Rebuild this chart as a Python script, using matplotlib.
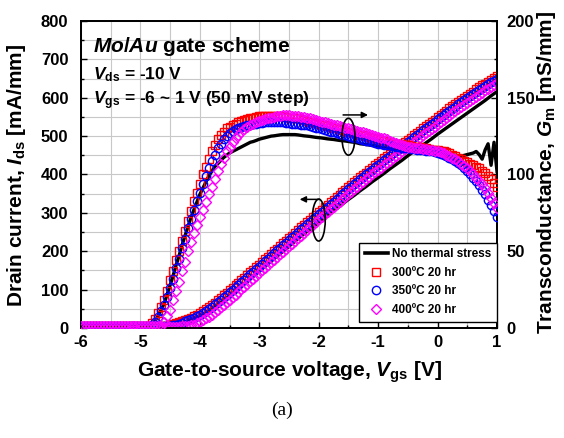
import numpy as np
import matplotlib
matplotlib.use('Agg')
import matplotlib.pyplot as plt
from matplotlib.patches import Ellipse
from matplotlib.lines import Line2D
from matplotlib.ticker import MultipleLocator

plt.rcParams['font.family'] = ['Liberation Sans', 'DejaVu Sans']
plt.rcParams['font.weight'] = 'bold'
plt.rcParams['axes.unicode_minus'] = False
plt.rcParams['mathtext.fontset'] = 'custom'
plt.rcParams['mathtext.rm'] = 'Liberation Sans:bold'
plt.rcParams['mathtext.bf'] = 'Liberation Sans:bold'
plt.rcParams['mathtext.it'] = 'Liberation Sans:bold:italic'

# Gate sweep, 50 mV step
vgs = np.round(np.arange(-6.0, 1.0001, 0.05), 2)

# Drain current [mA/mm]
id_ref = [3, 3, 3, 3, 3, 3, 3, 3, 3, 3, 3, 3,
          3, 3, 3, 3, 3, 3, 3, 3, 3, 3, 3, 3,
          3, 3, 3, 3.5, 4, 5, 6, 7.5, 9, 11, 13, 15.5, 18, 21, 24, 27.5,
          31, 35.5, 40, 45, 50, 55.5, 61, 66.5, 72, 78, 84, 90, 96, 102.5, 109, 115.5, 122, 128.5, 135, 141.5,
          148, 154.5, 161, 167.5, 174, 180.5, 187, 193.5, 200, 206.5, 213, 219.5, 226, 232.5, 239, 245, 251, 257, 263, 269,
          275, 281, 287, 293, 299, 305, 311, 317, 323, 329, 335, 340.5, 346, 352, 358, 363.5, 369, 375, 381, 386.5,
          392, 397.5, 403, 409, 415, 420.5, 426, 431.5, 437, 443, 449, 454.5, 460, 465.5, 471, 476.5, 482, 487.5, 493, 499,
          505, 510.5, 516, 521.5, 527, 532.5, 538, 543.5, 549, 554.5, 560, 565.5, 571, 576.5, 582, 587.5, 593, 599, 605, 610.5, 616]
id_300 = [3, 3, 3, 3, 3, 3, 3, 3, 3, 3, 3, 3,
          3, 3, 3, 3, 3, 3, 3, 3, 3, 3, 3, 3,
          3, 3.5, 4, 4.5, 5, 6.5, 8, 10, 12, 14.5, 17, 20, 23, 27, 31, 35,
          39, 44, 49, 54.5, 60, 66, 72, 78.5, 85, 91.5, 98, 104.5, 111, 117.5, 124, 131, 138, 145, 152, 158.5,
          165, 172, 179, 186, 193, 200, 207, 214, 221, 227.5, 234, 241, 248, 255, 262, 268.5, 275, 282, 289, 295.5,
          302, 308.5, 315, 321.5, 328, 334.5, 341, 347.5, 354, 360.5, 367, 373.5, 380, 386.5, 393, 399, 405, 411.5, 418, 424,
          430, 436, 442, 448, 454, 460, 466, 472, 478, 484, 490, 496, 502, 508, 514, 520, 526, 531.5, 537, 543,
          549, 555, 561, 566.5, 572, 577.5, 583, 588.5, 594, 599.5, 605, 610.5, 616, 621.5, 627, 632, 637, 642, 647, 651.5, 656]
id_350 = [3, 3, 3, 3, 3, 3, 3, 3, 3, 3, 3, 3,
          3, 3, 3, 3, 3, 3, 3, 3, 3, 3, 3, 3,
          3, 3, 3, 3.5, 4, 5, 6, 7.5, 9, 11.5, 14, 17, 20, 23.5, 27, 31,
          35, 40, 45, 50.5, 56, 62, 68, 74, 80, 86.5, 93, 99.5, 106, 112.5, 119, 126, 133, 140, 147, 153.5,
          160, 167, 174, 181, 188, 195, 202, 209, 216, 222.5, 229, 236, 243, 250, 257, 263.5, 270, 277, 284, 290.5,
          297, 303.5, 310, 316.5, 323, 329.5, 336, 342.5, 349, 355.5, 362, 368.5, 375, 381.5, 388, 394, 400, 406.5, 413, 419,
          425, 431, 437, 443, 449, 455, 461, 467, 473, 479, 485, 491, 497, 503, 509, 515, 521, 526.5, 532, 538,
          544, 549.5, 555, 560.5, 566, 571.5, 577, 582.5, 588, 593.5, 599, 604.5, 610, 615, 620, 625, 630, 635, 640, 644.5, 649]
id_400 = [3, 3, 3, 3, 3, 3, 3, 3, 3, 3, 3, 3,
          3, 3, 3, 3, 3, 3, 3, 3, 3, 3, 3, 3,
          3, 3, 3, 3, 3, 3, 3, 3, 3, 3.5, 4, 4.5, 5, 7, 9, 12,
          16, 20.5, 25, 30, 35, 41, 47, 53.5, 60, 66.5, 73, 80, 87, 94, 101, 108, 115, 122, 129, 136,
          143, 150, 157, 164, 171, 178, 185, 192, 199, 206, 213, 220, 227, 234, 241, 248, 255, 262, 269, 276,
          283, 290, 297, 303.5, 310, 316.5, 323, 329.5, 336, 342.5, 349, 355.5, 362, 368.5, 375, 381.5, 388, 394, 400, 406,
          412, 418, 424, 430, 436, 442, 448, 454, 460, 466, 472, 478, 484, 490, 496, 502, 508, 513.5, 519, 525,
          531, 536.5, 542, 547.5, 553, 559, 565, 570.5, 576, 581.5, 587, 592.5, 598, 603, 608, 613.5, 619, 624, 629, 634, 639]

# Transconductance [mS/mm]
gm_ref = [1, 1, 1, 1, 1, 1, 1, 1, 1, 1, 1, 1,
          1, 1, 1, 1, 1, 1, 1, 1, 1, 1, 1, 1,
          2, 5, 8, 12, 16, 22, 28, 34, 41, 47, 54, 60, 66, 72, 77, 82,
          87, 91, 95, 99, 102, 105, 107, 109, 111, 112.5, 114, 115, 116, 117, 118, 119, 120, 121, 121.5, 122.2,
          123, 123.5, 124, 124.5, 125, 125.2, 125.5, 125.8, 126, 126, 126, 126, 126, 125.8, 125.5, 125.2, 125, 124.8, 124.5, 124.2,
          124, 123.8, 123.5, 123.2, 123, 122.8, 122.5, 122.2, 122, 121.8, 121.5, 121.2, 121, 120.5, 120, 119.8, 119.5, 119.2, 119, 118.8,
          118.5, 118.2, 118, 117.8, 117.5, 117.2, 117, 116.8, 116.5, 116.2, 116, 115.8, 115.5, 115.2, 115, 114.8, 114.5, 114.2, 114, 113.8,
          113.5, 113.2, 113, 113, 113, 112.8, 112.5, 112.2, 112, 112.5, 113, 113.5, 114, 115, 113, 110, 116, 120, 106, 121, 102]
gm_300 = [1, 1, 1, 1, 1, 1, 1, 1, 1, 1, 1, 1,
          1, 1, 1, 1, 1, 1, 1, 1, 1, 1, 1, 1,
          3, 6, 10, 14, 18, 24, 31, 37, 44, 50, 57, 63, 70, 76, 83, 88,
          94, 100, 105, 110, 115, 119, 123, 126, 128, 130, 131, 132, 133, 134, 135, 135.5, 136, 136.5, 137, 137.5,
          138, 138, 138, 138, 138, 138, 138, 138, 138, 137.5, 137, 137, 137, 136.5, 136, 135.5, 135, 134.5, 134, 133.5,
          133, 132.5, 132, 131.5, 131, 130.5, 130, 129.5, 129, 128.5, 128, 127.5, 127, 126.5, 126, 125.5, 125, 124.5, 124, 123.5,
          123, 122.5, 122, 121.5, 121, 120.5, 120, 120, 120, 119.5, 119, 118.5, 118, 118, 118, 117.5, 117, 116.5, 116, 116,
          116, 115.5, 115, 114.5, 114, 113, 112, 111, 110, 109, 108, 107, 106, 105, 104, 102.5, 101, 99, 97, 94.5, 92]
gm_350 = [1, 1, 1, 1, 1, 1, 1, 1, 1, 1, 1, 1,
          1, 1, 1, 1, 1, 1, 1, 1, 1, 1, 1, 1,
          2, 4, 7, 11, 15, 20, 26, 32, 39, 45, 52, 58, 65, 71, 77, 83,
          88, 94, 99, 104, 109, 113, 117, 120, 123, 125, 127, 128.5, 129.5, 130.5, 131, 131.5, 132, 132.5, 133, 133.2,
          133.5, 133.8, 134, 134, 134, 134, 134, 134, 134, 133.8, 133.5, 133.2, 133, 132.8, 132.5, 132.2, 132, 131.5, 131, 130.5,
          130, 129.5, 129, 128.5, 128, 127.5, 127, 126.5, 126, 125.5, 125, 124.5, 124, 123.5, 123, 122.5, 122, 121.5, 121, 120.5,
          120, 119.8, 119.5, 119.2, 119, 118.5, 118, 117.8, 117.5, 117.2, 117, 116.8, 116.5, 116.2, 116, 115.8, 115.5, 115.2, 115, 114.5,
          114, 113.5, 113, 112, 111, 110, 109, 107.5, 106, 104, 102, 100, 98, 95.5, 93, 90, 87, 83.5, 80, 76, 72]
gm_400 = [1, 1, 1, 1, 1, 1, 1, 1, 1, 1, 1, 1,
          1, 1, 1, 1, 1, 1, 1, 1, 1, 1, 1, 1,
          1, 1, 1, 1, 4, 8, 12, 18, 24, 30, 37, 43, 50, 56, 62, 67,
          72, 77, 82, 87, 92, 97, 102, 107, 111, 115, 118, 121, 124, 126, 128, 129.5, 131, 132, 133, 134,
          135, 135.5, 136, 136.5, 137, 137.5, 138, 138.2, 138.5, 138.5, 138.5, 138.2, 138, 137.8, 137.5, 137.2, 137, 136.5, 136, 135.5,
          135, 134.5, 134, 133.5, 133, 132.5, 132, 131.5, 131, 130.5, 130, 129.5, 129, 128.5, 128, 127.5, 127, 126.2, 125.5, 125,
          124.5, 124, 123.5, 122.8, 122, 121.2, 120.5, 119.8, 119, 118.5, 118, 117.8, 117.5, 117.2, 117, 116.8, 116.5, 116.2, 116, 115.5,
          115, 114.5, 114, 113, 112, 111, 110, 108.5, 107, 105.5, 104, 102, 100, 98, 96, 93.5, 91, 88, 85, 81.5, 78]

labels = ['No thermal stress', '300ºC 20 hr', '350ºC 20 hr', '400ºC 20 hr']

fig = plt.figure(figsize=(5.64, 4.38), dpi=100)
ax = fig.add_axes([0.1436, 0.2511, 0.7376, 0.701])
ax2 = ax.twinx()

mk = dict(ls='none', mfc='none', mew=1.0)
ax.plot(vgs, id_ref, color='black', lw=2.4, zorder=2)
ax.plot(vgs, id_300, marker='s', ms=6, mec='#ff0000', zorder=3, **mk)
ax.plot(vgs, id_350, marker='o', ms=6, mec='#0000ff', zorder=4, **mk)
ax.plot(vgs, id_400, marker='D', ms=5.2, mec='#ff00ff', zorder=5, **mk)

ax2.plot(vgs, gm_ref, color='black', lw=2.4, zorder=2)
ax2.plot(vgs, gm_300, marker='s', ms=6, mec='#ff0000', zorder=3, **mk)
ax2.plot(vgs, gm_350, marker='o', ms=6, mec='#0000ff', zorder=4, **mk)
ax2.plot(vgs, gm_400, marker='D', ms=5.2, mec='#ff00ff', zorder=5, **mk)

ax.set_xlim(-6, 1)
ax.set_ylim(0, 800)
ax2.set_ylim(0, 200)

ax.xaxis.set_major_locator(MultipleLocator(1))
ax.xaxis.set_minor_locator(MultipleLocator(0.5))
ax.yaxis.set_major_locator(MultipleLocator(100))
ax.yaxis.set_minor_locator(MultipleLocator(50))
ax2.yaxis.set_major_locator(MultipleLocator(50))
ax2.yaxis.set_minor_locator(MultipleLocator(25))

ax.grid(which='both', color='#c8c8c8', lw=0.8)
ax.set_axisbelow(True)

ax.tick_params(axis='both', which='both', direction='in', labelsize=12, width=1)
ax.tick_params(axis='y', which='both', right=False, pad=9)
ax.tick_params(axis='x', which='both', top=False, pad=5)
ax.tick_params(which='major', length=4)
ax.tick_params(which='minor', length=2.5)
ax2.tick_params(axis='y', which='both', direction='in', labelsize=12, width=1, pad=7)
ax2.tick_params(which='major', length=4)
ax2.tick_params(which='minor', length=2.5)
for a in (ax, ax2):
    for s in a.spines.values():
        s.set_linewidth(1.3)

# axis labels
fig.text(17 / 564, 1 - 175 / 438, r'Drain current, $I_{\mathrm{ds}}$ [mA/mm]',
         rotation=90, ha='center', va='center', fontsize=15)
fig.text(546 / 564, 1 - 172 / 438, r'Transconductance, $G_{\mathrm{m}}$ [mS/mm]',
         rotation=90, ha='center', va='center', fontsize=15)
fig.text(290 / 564, 1 - 372 / 438, r'Gate-to-source voltage, $V_{\mathrm{gs}}$ [V]',
         ha='center', va='center', fontsize=15)
fig.text(282 / 564, 1 - 410 / 438, '(a)', ha='center', va='center',
         fontsize=14, fontweight='normal', family=['Liberation Serif'])

# in-plot text
ax.text(0.029, 0.899, r'$Mo/Au$ gate scheme', transform=ax.transAxes,
        fontsize=15, va='baseline', ha='left')
ax.text(0.029, 0.811, r'$V_{\mathrm{ds}}$ = -10 V', transform=ax.transAxes,
        fontsize=12.5, va='baseline', ha='left')
ax.text(0.029, 0.730, r'$V_{\mathrm{gs}}$ = -6 ~ 1 V (50 mV step)', transform=ax.transAxes,
        fontsize=12.5, va='baseline', ha='left')

# ellipses with arrows pointing to the matching axis
ax2.add_patch(Ellipse((-1.50, 124.6), 0.22, 24, fill=False, ec='black', lw=1.2, zorder=6))
ax2.annotate('', xy=(-1.17, 138.8), xytext=(-1.59, 138.8),
             arrowprops=dict(arrowstyle='-|>', color='black', lw=1.1, mutation_scale=9,
                             shrinkA=0, shrinkB=0), zorder=6)
ax2.add_patch(Ellipse((-2.0, 70.3), 0.22, 27.3, fill=False, ec='black', lw=1.2, zorder=6))
ax2.annotate('', xy=(-2.32, 83.8), xytext=(-1.98, 83.8),
             arrowprops=dict(arrowstyle='-|>', color='black', lw=1.1, mutation_scale=9,
                             shrinkA=0, shrinkB=0), zorder=6)

handles = [Line2D([], [], color='black', lw=2.6),
           Line2D([], [], marker='s', ms=6, mec='#ff0000', **mk),
           Line2D([], [], marker='o', ms=6, mec='#0000ff', **mk),
           Line2D([], [], marker='D', ms=5.2, mec='#ff00ff', **mk)]
leg = ax2.legend(handles, labels, loc='lower right', bbox_to_anchor=(1.0, 0.02),
                 borderaxespad=0, fontsize=8.5, frameon=True, fancybox=False,
                 edgecolor='black', framealpha=1, handlelength=2.0,
                 handletextpad=0.3, labelspacing=0.55, borderpad=0.5)
leg.get_frame().set_linewidth(1.0)
leg.set_zorder(10)

fig.savefig('out.png', dpi=100)
